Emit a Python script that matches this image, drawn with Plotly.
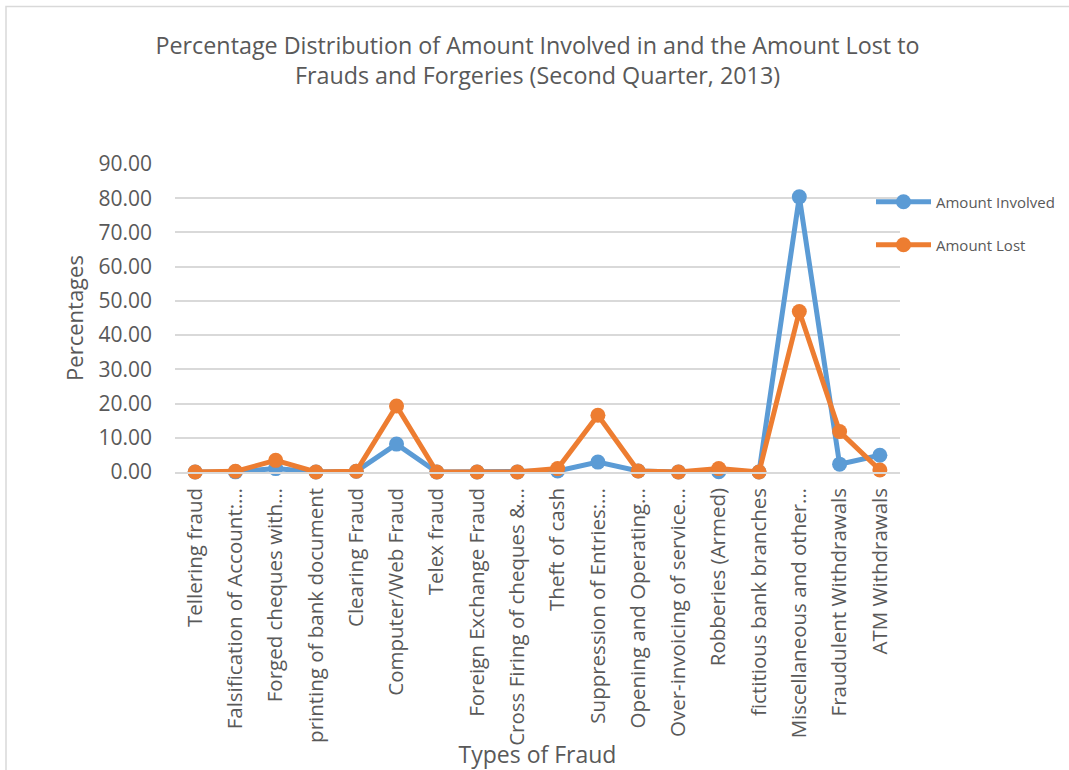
import plotly.graph_objects as go

# Fraud categories (long names shortened the way the axis shows them)
categories = [
    "Tellering fraud",
    "Falsification of Account:…",
    "Forged cheques with…",
    "printing of bank document",
    "Clearing Fraud",
    "Computer/Web Fraud",
    "Telex fraud",
    "Foreign Exchange Fraud",
    "Cross Firing of cheques &…",
    "Theft of cash",
    "Suppression of Entries:…",
    "Opening and Operating…",
    "Over-invoicing of service…",
    "Robberies (Armed)",
    "fictitious bank branches",
    "Miscellaneous and other…",
    "Fraudulent Withdrawals",
    "ATM Withdrawals",
]

# Percentage shares (second quarter, 2013)
amount_involved = [0.0, 0.05, 1.0, 0.0, 0.2, 8.15, 0.0, 0.0, 0.0, 0.3,
                   2.9, 0.3, 0.0, 0.1, 0.0, 80.4, 2.3, 4.9]
amount_lost = [0.0, 0.2, 3.4, 0.0, 0.2, 19.3, 0.0, 0.0, 0.0, 1.0,
               16.6, 0.3, 0.0, 1.0, 0.0, 46.9, 11.8, 0.6]

y_ticks = [0, 10, 20, 30, 40, 50, 60, 70, 80, 90]

BLUE = "#5B9BD5"
ORANGE = "#ED7D31"
TEXT = "#595959"
FONT = "Open Sans"

W, H = 1069, 770
L, R, T, B = 175, 169, 164, 298
pw = W - L - R
ph = H - T - B

fig = go.Figure()
fig.add_trace(go.Scatter(
    x=categories, y=amount_involved, name="Amount Involved",
    mode="lines+markers", line=dict(color=BLUE, width=5),
    marker=dict(color=BLUE, size=15), cliponaxis=False, legend="legend",
))
fig.add_trace(go.Scatter(
    x=categories, y=amount_lost, name="Amount Lost",
    mode="lines+markers", line=dict(color=ORANGE, width=5),
    marker=dict(color=ORANGE, size=15), cliponaxis=False, legend="legend2",
))

# outer chart frame (left and top edges visible)
fig.add_shape(type="rect", xref="paper", yref="paper",
              x0=(6 - L) / pw, x1=(W + 20 - L) / pw,
              y0=-(H + 20 - T - ph) / ph, y1=(ph + T - 6.5) / ph,
              line=dict(color="#D9D9D9", width=1.5), layer="below")

legend_common = dict(
    xanchor="left", yanchor="middle", bgcolor="rgba(0,0,0,0)",
    font=dict(family=FONT, size=15, color=TEXT), itemwidth=55,
    x=(871 - L) / pw,
)
fig.update_layout(
    width=W, height=H,
    margin=dict(l=L, r=R, t=T, b=B, autoexpand=False),
    paper_bgcolor="white", plot_bgcolor="white",
    title=dict(
        text="Percentage Distribution of Amount Involved in and the Amount Lost to<br>"
             "Frauds and Forgeries (Second Quarter, 2013)",
        x=0.5, xref="paper", xanchor="center", y=1 - 54 / H, yanchor="middle",
        font=dict(family=FONT, size=23.3, color=TEXT),
    ),
    legend=dict(y=(472 - 202) / ph, **legend_common),
    legend2=dict(y=(472 - 245) / ph, **legend_common),
    showlegend=True,
)

fig.update_xaxes(
    type="category", tickangle=-90,
    tickfont=dict(family=FONT, size=20.5, color=TEXT),
    showgrid=False, showline=True, linecolor="#D9D9D9", linewidth=1.5,
    ticks="", ticklabelstandoff=6,
    title=dict(text="Types of Fraud", font=dict(family=FONT, size=23, color=TEXT), standoff=4),
    range=[-0.5, len(categories) - 0.5],
)
fig.update_yaxes(
    range=[0, 90], tickvals=y_ticks, tickformat=".2f",
    tickfont=dict(family=FONT, size=21, color=TEXT),
    showgrid=True, gridcolor="#D9D9D9", gridwidth=1.5,
    zeroline=False, showline=False, ticks="", ticklabelstandoff=22,
    title=dict(text="Percentages", font=dict(family=FONT, size=22, color=TEXT), standoff=8),
)

fig.write_html("out.html")
